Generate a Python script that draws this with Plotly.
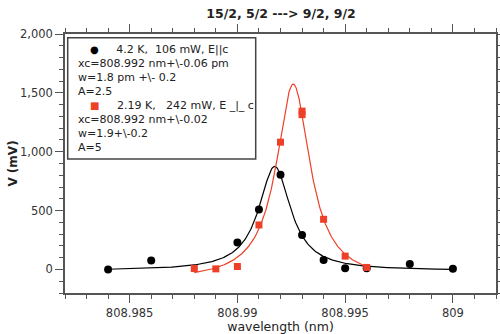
import numpy as np
import plotly.graph_objects as go

# Measured points, 4.2 K, 106 mW, E || c
wl_a = [808.984, 808.986, 808.990, 808.991, 808.992, 808.993, 808.994,
        808.995, 808.996, 808.998, 809.000]
v_a = [0, 75, 230, 510, 805, 293, 81, 11, 10, 47, 5]

# Measured points, 2.19 K, 242 mW, E _|_ c
wl_b = [808.988, 808.989, 808.990, 808.991, 808.992, 808.993, 808.993,
        808.994, 808.995, 808.996]
v_b = [8, 5, 25, 378, 1081, 1345, 1315, 426, 113, 17]

# Lorentzian fit parameters (centre nm, FWHM pm, height mV, offset mV, span nm)
fit_a = dict(xc=808.99173, w=1.8, h=885, y0=-10, x0=808.984, x1=809.000)
fit_b = dict(xc=808.99259, w=1.9, h=1670, y0=-95, x0=808.988, x1=808.996)

x_ticks = [808.985, 808.99, 808.995, 809]
x_labels = ["808.985", "808.99", "808.995", "809"]
y_ticks = [0, 500, 1000, 1500, 2000]
y_labels = ["0", "500", "1,000", "1,500", "2,000"]

RED = "#ee4028"
FONT = "DejaVu Sans"

legend_lines = [
    ("<span style='color:black;font-size:10px'>\u25CF</span>"
     "&nbsp;&nbsp;&nbsp;&nbsp;&nbsp;4.2 K,&nbsp;&nbsp;106 mW, E||c"),
    "xc=808.992 nm+\\-0.06 pm",
    "w=1.8 pm +\\- 0.2",
    "A=2.5",
    (f"<span style='color:{RED};font-size:10px'>\u25A0</span>"
     "&nbsp;&nbsp;&nbsp;&nbsp;&nbsp;2.19 K,&nbsp;&nbsp;&nbsp;242 mW, E _|_ c"),
    "xc=808.992 nm+\\-0.02",
    "w=1.9+\\-0.2",
    "A=5",
]


def lorentz(p, n=400):
    x = np.linspace(p["x0"], p["x1"], n)
    d = (x - p["xc"]) * 1000.0  # pm
    y = p["y0"] + p["h"] / (1.0 + (2.0 * d / p["w"]) ** 2)
    return x, y


fig = go.Figure()

xa, ya = lorentz(fit_a)
xb, yb = lorentz(fit_b)
fig.add_trace(go.Scatter(x=xa, y=ya, mode="lines",
                         line=dict(color="black", width=1.2), hoverinfo="skip"))
fig.add_trace(go.Scatter(x=xb, y=yb, mode="lines",
                         line=dict(color=RED, width=1.2), hoverinfo="skip"))
fig.add_trace(go.Scatter(x=wl_a, y=v_a, mode="markers",
                         marker=dict(symbol="circle", size=8, color="black")))
fig.add_trace(go.Scatter(x=wl_b, y=v_b, mode="markers",
                         marker=dict(symbol="square", size=7, color=RED)))

axis_common = dict(
    showline=True, linecolor="#555555", linewidth=1.5, mirror="ticks",
    ticks="outside", ticklen=8, tickwidth=1.2, tickcolor="#555555",
    showgrid=False, zeroline=False, automargin=False,
    tickfont=dict(family=FONT, size=11.5, color="#333333"),
)

fig.update_xaxes(
    range=[808.982, 809.002], tickvals=x_ticks, ticktext=x_labels,
    minor=dict(dtick=0.001, ticks="outside", ticklen=4, tickcolor="#555555",
               tickwidth=1, showgrid=False),
    title=dict(text="wavelength (nm)", standoff=4,
               font=dict(family=FONT, size=12.5, color="#222222")),
    **axis_common,
)
fig.update_yaxes(
    range=[-200, 2000], tickvals=y_ticks, ticktext=y_labels,
    minor=dict(dtick=100, ticks="outside", ticklen=4, tickcolor="#555555",
               tickwidth=1, showgrid=False),
    title=dict(text="<b>V (mV)</b>", standoff=0,
               font=dict(family=FONT, size=12, color="#222222")),
    **axis_common,
)

# legend box
fig.add_shape(type="rect", xref="paper", yref="paper",
              x0=(67.7 - 65) / 431, x1=(255.7 - 65) / 431,
              y0=(293 - 159) / 259, y1=(293 - 37.7) / 259,
              line=dict(color="#444444", width=1.5), fillcolor="white")

for i, txt in enumerate(legend_lines):
    ypix = 49 + 14 * i
    xpix = 88 if i in (0, 4) else 76
    fig.add_annotation(
        xref="paper", yref="paper", x=(xpix - 65) / 431, y=(293 - ypix) / 259,
        xanchor="left", yanchor="middle", showarrow=False, text=txt,
        font=dict(family=FONT, size=11, color="#222222"),
    )

fig.update_layout(
    width=500, height=334,
    margin=dict(l=65, r=4, t=34, b=41),
    paper_bgcolor="white", plot_bgcolor="white",
    showlegend=False,
    title=dict(text="<b>15/2, 5/2 ---> 9/2, 9/2</b>", x=281 / 500, xanchor="center",
               y=1 - 14 / 334, yanchor="middle",
               font=dict(family=FONT, size=12.5, color="#222222")),
)

fig.write_html("out.html")
